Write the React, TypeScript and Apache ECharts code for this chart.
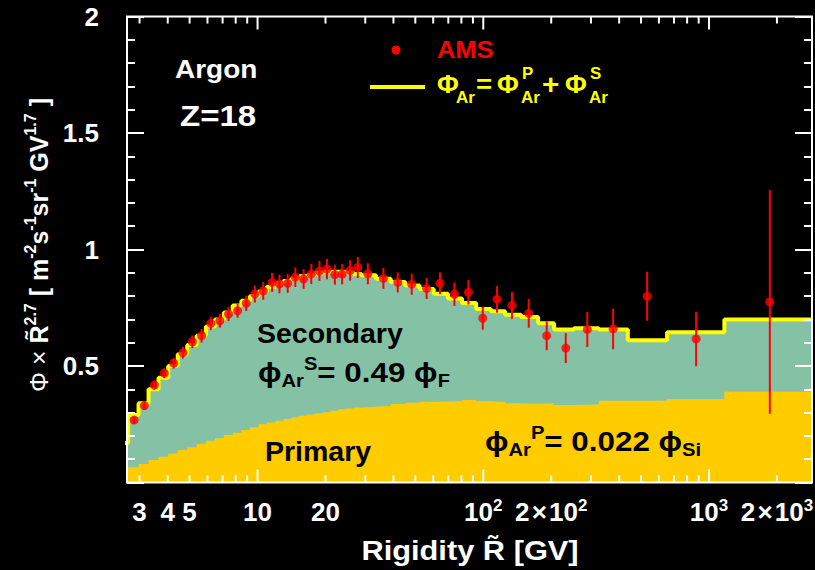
import { useEffect, useRef } from "react";
import * as echarts from "echarts";

// Model histogram: bin edges in rigidity (GV) and per-bin flux x R^2.7
const binEdges = [
  2.4, 2.67, 2.97, 3.29, 3.64, 4.02, 4.43, 4.88, 5.37, 5.9, 6.47, 7.09, 7.76, 8.48, 9.26,
  10.1, 11.0, 12.0, 13.0, 14.1, 15.3, 16.6, 18.0, 19.5, 21.1, 22.8, 24.7, 26.7, 28.8, 33.5,
  38.9, 45.1, 52.2, 60.3, 69.7, 80.5, 93.0, 108, 125, 147, 175, 206, 252, 325, 437, 652,
  1170, 2860,
];
const totalFlux = [
  0.17, 0.29, 0.34, 0.4, 0.45, 0.5, 0.55, 0.59, 0.63, 0.67, 0.7, 0.73, 0.76, 0.78, 0.8,
  0.82, 0.84, 0.855, 0.865, 0.875, 0.885, 0.89, 0.9, 0.905, 0.905, 0.905, 0.9, 0.895, 0.89,
  0.875, 0.86, 0.845, 0.83, 0.81, 0.79, 0.77, 0.745, 0.735, 0.72, 0.71, 0.683, 0.657,
  0.662, 0.657, 0.61, 0.645, 0.7,
];
const primaryFlux = [
  0.05, 0.065, 0.079, 0.097, 0.11, 0.125, 0.139, 0.151, 0.165, 0.179, 0.19, 0.204, 0.214,
  0.225, 0.237, 0.25, 0.257, 0.265, 0.272, 0.28, 0.287, 0.292, 0.297, 0.302, 0.308, 0.314,
  0.318, 0.322, 0.325, 0.328, 0.337, 0.342, 0.347, 0.348, 0.35, 0.354, 0.349, 0.346, 0.34,
  0.338, 0.34, 0.333, 0.335, 0.351, 0.351, 0.358, 0.39,
];

// AMS argon measurement
const amsRigidity = [
  2.84, 3.15, 3.49, 3.86, 4.25, 4.67, 5.14, 5.65, 6.21, 6.81, 7.44, 8.16, 8.91, 9.73, 10.6,
  11.6, 12.5, 13.6, 14.7, 16.0, 17.3, 18.8, 20.3, 22.0, 23.7, 25.7, 27.8, 30.8, 36.1, 41.8,
  48.2, 56.1, 64.3, 74.5, 85.9, 99.5, 115, 134, 159, 191, 232, 289, 376, 532, 877, 1860,
];
const amsFlux = [
  0.268, 0.33, 0.418, 0.469, 0.512, 0.557, 0.604, 0.63, 0.683, 0.694, 0.723, 0.737, 0.769,
  0.809, 0.822, 0.859, 0.852, 0.855, 0.881, 0.873, 0.895, 0.908, 0.916, 0.892, 0.894, 0.91,
  0.923, 0.896, 0.876, 0.859, 0.851, 0.833, 0.855, 0.808, 0.816, 0.705, 0.786, 0.76, 0.726,
  0.63, 0.577, 0.657, 0.659, 0.799, 0.616, 0.775,
];
const amsError = [
  0.015, 0.017, 0.019, 0.021, 0.023, 0.025, 0.027, 0.029, 0.029, 0.029, 0.03, 0.03, 0.033,
  0.036, 0.038, 0.041, 0.04, 0.041, 0.042, 0.042, 0.043, 0.043, 0.044, 0.043, 0.043, 0.044,
  0.045, 0.045, 0.045, 0.043, 0.045, 0.045, 0.047, 0.05, 0.052, 0.049, 0.057, 0.057, 0.062,
  0.062, 0.064, 0.075, 0.087, 0.105, 0.117, 0.48,
];

// Axis ticks and labels
const xTickValues = [
  3, 4, 5, 6, 7, 8, 9, 10, 20, 30, 40, 50, 60, 70, 80, 90, 100, 200, 300, 400, 500, 600, 700,
  800, 900, 1000, 2000,
];
const xMajorTicks = [10, 100, 1000];
const xLabelValues = [3, 4, 5, 10, 20, 100, 200, 1000, 2000];
const xLabelTexts = [
  "3", "4", "5", "10", "20", "10{s|2}", "2\u200a×\u200a10{s|2}", "10{s|3}", "2\u200a×\u200a10{s|3}",
];
const yLabelTexts: Record<string, string> = { "0.5": "0.5", "1": "1", "1.5": "1.5", "2": "2" };

const X_MIN = 2.64;
const X_MAX = 2860;
const Y_MIN = 0;
const Y_MAX = 2;

const FONT = '"Liberation Sans", Arial, Helvetica, sans-serif';
const WHITE = "#ffffff";
const RED = "#ff0000";
const YELLOW = "#ffff00";
const GREEN = "#85c2a5";
const ORANGE = "#ffcc00";

function stepData(values: number[]) {
  return binEdges.map((edge, i) => [edge, values[Math.min(i, values.length - 1)]]);
}

function yAxisCommon(position: "left" | "right", showLabels: boolean) {
  return {
    type: "value",
    position,
    min: Y_MIN,
    max: Y_MAX,
    interval: 0.5,
    z: 10,
    axisLine: { show: false },
    splitLine: { show: false },
    axisTick: { show: true, inside: true, length: 17, lineStyle: { color: WHITE, width: 2 } },
    minorTick: { show: true, splitNumber: 5, length: 8, lineStyle: { color: WHITE, width: 2 } },
    axisLabel: {
      show: showLabels,
      color: WHITE,
      fontSize: 26,
      fontWeight: "bold",
      fontFamily: FONT,
      margin: 28,
      formatter: (v: number) => yLabelTexts[String(v)] ?? "",
    },
  };
}

const subSup = {
  sub: { fontSize: 18, fontWeight: "bold", fontFamily: FONT, fill: "#000", verticalAlign: "bottom", lineHeight: 15 },
  sup: { fontSize: 18, fontWeight: "bold", fontFamily: FONT, fill: "#000", verticalAlign: "top", lineHeight: 15 },
};

function legendText(text: string, x: number, y: number, size: number) {
  return {
    type: "text",
    x,
    y,
    scaleX: 1.06,
    style: { text, fill: YELLOW, fontSize: size, fontWeight: "bold", fontFamily: FONT, verticalAlign: "middle" },
  };
}

export default function App() {
  const ref = useRef<HTMLDivElement>(null);

  useEffect(() => {
    if (!ref.current) return;
    const chart = echarts.init(ref.current, undefined, { renderer: "svg" });

    const option: any = {
      animation: false,
      backgroundColor: "#000000",
      grid: { left: 127, top: 16.5, right: 3, bottom: 87.5, show: true, backgroundColor: "#000000", borderWidth: 0 },
      xAxis: {
        type: "log",
        logBase: 10,
        min: X_MIN,
        max: X_MAX,
        axisLine: { show: false },
        axisTick: { show: false },
        axisLabel: { show: false },
        splitLine: { show: false },
      },
      yAxis: [yAxisCommon("left", true), yAxisCommon("right", false)],
      series: [
        {
          name: "total area",
          type: "line",
          step: "end",
          data: stepData(totalFlux),
          showSymbol: false,
          lineStyle: { width: 0 },
          areaStyle: { color: GREEN, opacity: 1 },
          silent: true,
        },
        {
          name: "primary",
          type: "line",
          step: "end",
          data: stepData(primaryFlux),
          showSymbol: false,
          lineStyle: { width: 0 },
          areaStyle: { color: ORANGE, opacity: 1 },
          silent: true,
        },
        {
          name: "total",
          type: "line",
          step: "end",
          data: stepData(totalFlux),
          showSymbol: false,
          lineStyle: { width: 4, color: YELLOW },
          silent: true,
        },
        {
          name: "AMS errors",
          type: "custom",
          data: amsRigidity.map((r, i) => [r, amsFlux[i] - amsError[i], amsFlux[i] + amsError[i]]),
          encode: { x: 0, y: [1, 2] },
          z: 5,
          renderItem: (_p: any, api: any) => {
            const lo = api.coord([api.value(0), api.value(1)]);
            const hi = api.coord([api.value(0), api.value(2)]);
            return {
              type: "line",
              shape: { x1: lo[0], y1: lo[1], x2: hi[0], y2: hi[1] },
              style: { stroke: RED, lineWidth: 2 },
            };
          },
        },
        {
          name: "AMS",
          type: "scatter",
          data: amsRigidity.map((r, i) => [r, amsFlux[i]]),
          symbol: "circle",
          symbolSize: 9,
          itemStyle: { color: RED },
          z: 6,
        },
        {
          name: "x ticks",
          type: "custom",
          data: xTickValues.map((v) => [v, 0]),
          encode: { x: 0, y: 1 },
          z: 10,
          silent: true,
          clip: false,
          renderItem: (_p: any, api: any) => {
            const v = api.value(0);
            const b = api.coord([v, Y_MIN]);
            const t = api.coord([v, Y_MAX]);
            const len = xMajorTicks.includes(v) ? 13 : 7;
            return {
              type: "group",
              children: [
                { type: "line", shape: { x1: b[0], y1: b[1], x2: b[0], y2: b[1] - len }, style: { stroke: WHITE, lineWidth: 2 } },
                { type: "line", shape: { x1: t[0], y1: t[1], x2: t[0], y2: t[1] + len }, style: { stroke: WHITE, lineWidth: 2 } },
              ],
            };
          },
        },
        {
          name: "x labels",
          type: "custom",
          data: xLabelValues.map((v, i) => [v, 0, i]),
          encode: { x: 0, y: 1 },
          z: 10,
          silent: true,
          clip: false,
          renderItem: (_p: any, api: any) => {
            const v = api.value(0);
            const idx = api.value(2);
            const p = api.coord([v, Y_MIN]);
            return {
              type: "text",
              x: p[0],
              y: p[1] + 29,
              style: {
                text: xLabelTexts[idx],
                fill: WHITE,
                fontSize: 26,
                fontWeight: "bold",
                fontFamily: FONT,
                align: "center",
                verticalAlign: "middle",
                lineHeight: 30,
                rich: {
                  s: { fontSize: 17, fontWeight: "bold", fontFamily: FONT, fill: WHITE, verticalAlign: "top", lineHeight: 15 },
                },
              },
            };
          },
        },
      ],
      graphic: [
        // plot frame
        {
          type: "rect",
          z: 100,
          silent: true,
          shape: { x: 127, y: 16.5, width: 685, height: 466 },
          style: { fill: "none", stroke: WHITE, lineWidth: 2 },
        },
        { type: "text", x: 175, y: 70, z: 100, scaleX: 1.12, style: { text: "Argon", fill: WHITE, fontSize: 25, fontWeight: "bold", fontFamily: FONT, align: "left", verticalAlign: "middle" } },
        { type: "text", x: 180, y: 116, z: 100, scaleX: 1.14, style: { text: "Z=18", fill: WHITE, fontSize: 29, fontWeight: "bold", fontFamily: FONT, align: "left", verticalAlign: "middle" } },
        // legend
        { type: "circle", z: 100, shape: { cx: 396, cy: 50, r: 4.5 }, style: { fill: RED } },
        { type: "text", x: 437, y: 50, z: 100, scaleX: 1.06, style: { text: "AMS", fill: RED, fontSize: 24, fontWeight: "bold", fontFamily: FONT, align: "left", verticalAlign: "middle" } },
        { type: "line", z: 100, shape: { x1: 370, y1: 87, x2: 425, y2: 87 }, style: { stroke: YELLOW, lineWidth: 4 } },
        {
          type: "group",
          z: 100,
          children: [
            legendText("Φ", 437, 84, 25),
            legendText("Ar", 456, 97, 16),
            legendText("=", 476, 84, 26),
            legendText("Φ", 497, 84, 25),
            legendText("P", 522, 73, 16),
            legendText("Ar", 521, 97, 16),
            legendText("+", 542, 84, 28),
            legendText("Φ", 565, 84, 25),
            legendText("S", 590, 73, 16),
            legendText("Ar", 589, 97, 16),
          ],
        },
        // component annotations
        { type: "text", x: 257, y: 333, z: 100, style: { text: "Secondary", fill: "#000", fontSize: 28.5, fontWeight: "bold", fontFamily: FONT, align: "left", verticalAlign: "middle" } },
        {
          type: "text",
          x: 258,
          y: 372,
          z: 100,
          scaleX: 1.12,
          style: {
            text: "ϕ{sub|Ar}{sup|S}= 0.49 ϕ{sub|F}",
            fill: "#000",
            fontSize: 28,
            fontWeight: "bold",
            fontFamily: FONT,
            lineHeight: 35,
            align: "left",
            verticalAlign: "middle",
            rich: subSup,
          },
        },
        { type: "text", x: 265, y: 451, z: 100, style: { text: "Primary", fill: "#000", fontSize: 28.5, fontWeight: "bold", fontFamily: FONT, align: "left", verticalAlign: "middle" } },
        {
          type: "text",
          x: 485,
          y: 441,
          z: 100,
          scaleX: 1.12,
          style: {
            text: "ϕ{sub|Ar}{sup|P}= 0.022 ϕ{sub|Si}",
            fill: "#000",
            fontSize: 28,
            fontWeight: "bold",
            fontFamily: FONT,
            lineHeight: 35,
            align: "left",
            verticalAlign: "middle",
            rich: subSup,
          },
        },
        // axis titles
        {
          type: "text",
          x: 39,
          y: 245,
          rotation: Math.PI / 2,
          z: 100,
          style: {
            text: "{n|Φ × }{b|R\u0303}{s|2.7}{b| [ m}{s|-2}{b|s}{s|-1}{b|sr}{s|-1}{b| GV}{s|1.7}{b| ]}",
            fill: WHITE,
            fontSize: 25,
            fontFamily: FONT,
            align: "center",
            verticalAlign: "middle",
            lineHeight: 34,
            rich: {
              n: { fontSize: 25, fontWeight: "normal", fontFamily: FONT, fill: WHITE, lineHeight: 34 },
              b: { fontSize: 25, fontWeight: "bold", fontFamily: FONT, fill: WHITE, lineHeight: 34 },
              s: { fontSize: 16, fontWeight: "bold", fontFamily: FONT, fill: WHITE, verticalAlign: "top", lineHeight: 16 },
            },
          },
        },
        {
          type: "text",
          x: 470,
          y: 550,
          z: 100,
          scaleX: 1.1,
          style: {
            text: "Rigidity R\u0303 [GV]",
            fill: WHITE,
            fontSize: 28,
            fontWeight: "bold",
            fontFamily: FONT,
            align: "center",
            verticalAlign: "middle",
          },
        },
      ],
    };

    chart.setOption(option);
    return () => chart.dispose();
  }, []);

  return (
    <div
      ref={ref}
      style={{ position: "fixed", left: 0, top: 0, width: 815, height: 570, background: "#000" }}
    />
  );
}
